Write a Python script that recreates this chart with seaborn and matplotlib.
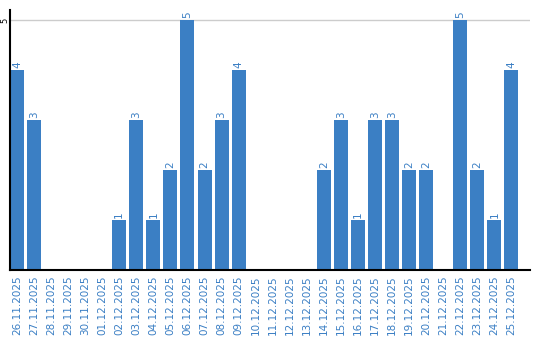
import matplotlib
matplotlib.use("Agg")
import matplotlib.pyplot as plt
import seaborn as sns
import pandas as pd

dates = ["26.11.2025", "27.11.2025", "28.11.2025", "29.11.2025", "30.11.2025",
         "01.12.2025", "02.12.2025", "03.12.2025", "04.12.2025", "05.12.2025",
         "06.12.2025", "07.12.2025", "08.12.2025", "09.12.2025", "10.12.2025",
         "11.12.2025", "12.12.2025", "13.12.2025", "14.12.2025", "15.12.2025",
         "16.12.2025", "17.12.2025", "18.12.2025", "19.12.2025", "20.12.2025",
         "21.12.2025", "22.12.2025", "23.12.2025", "24.12.2025", "25.12.2025"]
values = [4, 3, 0, 0, 0, 0, 1, 3, 1, 2, 5, 2, 3, 4, 0, 0, 0, 0, 2, 3,
          1, 3, 3, 2, 2, 0, 5, 2, 1, 4]
y_ticks = [5]

BAR = "#3b7fc4"
sns.set_style("white")
fig = plt.figure(figsize=(5.4, 3.4), dpi=100)
ax = fig.add_axes([10/540, 70/340, 520/540, 260/340])
df = pd.DataFrame({"date": dates, "value": values})
sns.barplot(data=df, x="date", y="value", color=BAR, saturation=1, width=0.82, ax=ax)
for p in ax.patches:
    p.set_edgecolor("none")

ax.set_xlim(-0.41, 30.09)
ax.set_ylim(0, 5.2)
ax.set_yticks(y_ticks)
ax.set_yticklabels([str(t) for t in y_ticks], rotation=90, va="center", ha="center",
                   fontsize=6, color="black")
ax.tick_params(axis="y", length=0, pad=4)
ax.tick_params(axis="x", length=0, pad=4, labelrotation=90, labelsize=7.5, labelcolor=BAR)
for t in ax.get_xticklabels():
    t.set_va("top")
ax.set_xlabel("")
ax.set_ylabel("")
for yt in y_ticks:
    ax.axhline(yt, color="#cccccc", lw=1, zorder=0)
for s in ["top", "right"]:
    ax.spines[s].set_visible(False)
for s in ["left", "bottom"]:
    ax.spines[s].set_color("black")
    ax.spines[s].set_linewidth(1.5)

for i, v in enumerate(values):
    if v > 0:
        ax.text(i, v + 0.04, str(v), rotation=90, ha="center", va="bottom",
                fontsize=7.5, color=BAR)

fig.savefig("out.png", dpi=100)
